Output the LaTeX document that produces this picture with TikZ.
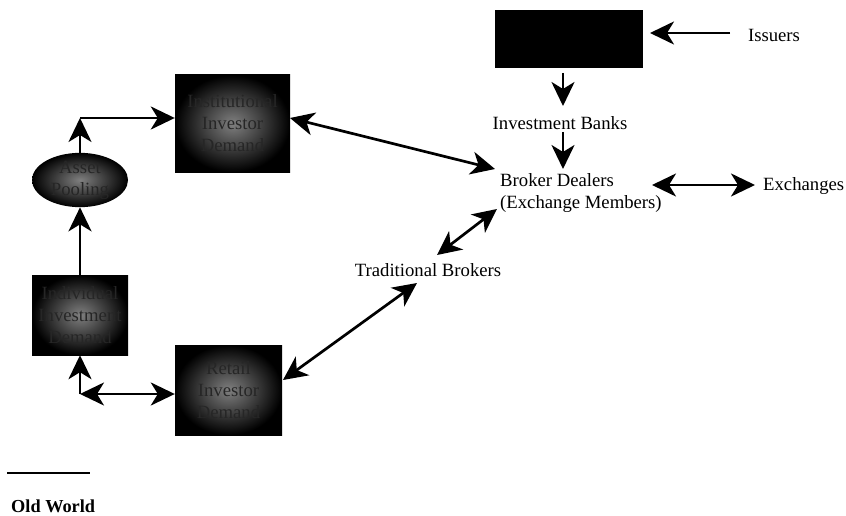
\documentclass[tikz,border=0pt]{standalone}
\usepackage{fontspec}
\setmainfont{Liberation Serif}
\usetikzlibrary{arrows.meta,shapes.geometric}
\begin{document}
\begin{tikzpicture}[x=1pt,y=-1pt,
  every node/.style={font=\fontsize{18.7}{22}\selectfont},
  txt/.style={inner sep=1pt},
  demand/.style={rectangle, inner sep=2pt, align=center, text=black!85,
    shading=radial, inner color=black!50, outer color=black},
  poolshape/.style={ellipse, inner sep=0pt, align=center, text=black!85,
    shading=radial, inner color=black!50, outer color=black},
  link/.style={line width=2.7pt, -{Stealth[length=24pt,width=23pt,inset=7pt]}},
  dlink/.style={line width=2.7pt, {Stealth[length=24pt,width=23pt,inset=7pt]}-{Stealth[length=24pt,width=23pt,inset=7pt]}}]
\useasboundingbox (0,0) rectangle (846,516);

% demand boxes and the pooling ellipse
\node[demand, minimum width=115pt, minimum height=97pt] (inst) at (232.5,123.5)
  {Institutional\\Investor\\Demand};
\node[poolshape, minimum width=96pt, minimum height=48pt] (pool) at (80,180)
  {Asset\\Pooling};
\node[demand, minimum width=96pt, minimum height=80pt] (indiv) at (80,315)
  {Individual\\Investment\\Demand};
\node[demand, minimum width=107pt, minimum height=90pt] (retail) at (228.5,390)
  {Retail\\Investor\\Demand};

% market side
\node[rectangle, fill=black, minimum width=148pt, minimum height=58pt] (top) at (569,39) {};
\node[txt] (issuers) at (774,35) {Issuers};
\node[txt] (banks) at (560,123) {Investment Banks};
\node[txt, anchor=west, align=left] (broker) at (499,193) {Broker Dealers\\(Exchange Members)};
\node[txt, anchor=west] (exch) at (762,186) {Exchanges};
\node[txt] (trad) at (428,270) {Traditional Brokers};

% connector end points
\coordinate (issuersW) at (730,33);
\coordinate (topE) at (650,33);
\coordinate (topS) at (563,73);
\coordinate (banksN) at (563,106);
\coordinate (banksS) at (563,132);
\coordinate (brokerN) at (563,169);
\coordinate (brokerNW) at (495,169);
\coordinate (brokerSW) at (497,209);
\coordinate (brokerE) at (652,185);
\coordinate (exchW) at (755,185);
\coordinate (tradNE) at (437,255);
\coordinate (tradSW) at (417,283);
\coordinate (instE) at (290,118);
\coordinate (retailE) at (283,380);
\coordinate (upcorner) at (80,118);
\coordinate (lowcorner) at (80,394);

% connectors
\draw[link] (issuersW) -- (topE);
\draw[link] (topS) -- (banksN);
\draw[link] (banksS) -- (brokerN);
\draw[dlink] (instE) -- (brokerNW);
\draw[dlink] (brokerE) -- (exchW);
\draw[dlink] (tradNE) -- (brokerSW);
\draw[dlink] (tradSW) -- (retailE);
\draw[link] (pool.north) -- (upcorner);
\draw[link] (upcorner) -- (inst.west |- upcorner);
\draw[link] (indiv.north) -- (pool.south);
\draw[link] (lowcorner) -- (indiv.south);
\draw[dlink] (lowcorner) -- (retail.west |- lowcorner);

% legend
\coordinate (legA) at (7,473);
\coordinate (legB) at (90,473);
\draw[line width=2.7pt] (legA) -- (legB);
\node[inner sep=0pt, anchor=west, font=\fontsize{18.3}{22}\selectfont\bfseries] (old) at (11,506) {Old World};
\end{tikzpicture}
\end{document}
